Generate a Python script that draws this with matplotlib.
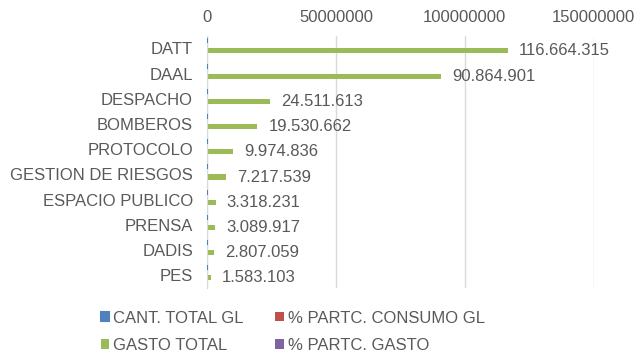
import matplotlib
matplotlib.use("Agg")
import matplotlib.pyplot as plt
import numpy as np

categories = ["DATT", "DAAL", "DESPACHO", "BOMBEROS", "PROTOCOLO",
              "GESTION DE RIESGOS", "ESPACIO PUBLICO", "PRENSA", "DADIS", "PES"]
cant_total_gl = [13400, 10450, 2820, 2245, 1150, 830, 380, 355, 320, 180]
pct_consumo_gl = [41.7, 32.5, 8.8, 7.0, 3.6, 2.6, 1.2, 1.1, 1.0, 0.6]
gasto_total = [116664315, 90864901, 24511613, 19530662, 9974836,
               7217539, 3318231, 3089917, 2807059, 1583103]
pct_gasto = [41.7, 32.5, 8.8, 7.0, 3.6, 2.6, 1.2, 1.1, 1.0, 0.6]
series_names = ["CANT. TOTAL GL", "% PARTC. CONSUMO GL", "GASTO TOTAL", "% PARTC. GASTO"]
x_ticks = [0, 50000000, 100000000, 150000000]

colors = ["#4F81BD", "#C0504D", "#9BBB59", "#8064A2"]
text_color = "#595959"
grid_color = "#D9D9D9"
fs = 12

plt.rcParams["font.family"] = ["Liberation Sans", "DejaVu Sans"]

fig = plt.figure(figsize=(6.35, 3.55), dpi=100)
ax = fig.add_axes([0.326, 0.189, 0.609, 0.710])

y = np.arange(len(categories))
h = 0.2
series = [cant_total_gl, pct_consumo_gl, gasto_total, pct_gasto]
handles = []
for i, (vals, name, c) in enumerate(zip(series, series_names, colors)):
    offs = (i - 1.5) * h
    lw = 1.5 if i == 0 else 0
    b = ax.barh(y + offs, vals, height=h, color=c, edgecolor=c, linewidth=lw,
                label=name, zorder=3 if i == 0 else 2)
    handles.append(b)

def fmt(v):
    return f"{v:,}".replace(",", ".")

for yi, v in zip(y, gasto_total):
    ax.annotate(fmt(v), xy=(v, yi + 0.5 * h), xytext=(8, 0), textcoords="offset points",
                ha="left", va="center", fontsize=fs, color=text_color)

ax.set_xlim(0, 150000000)
ax.set_ylim(len(categories) - 0.5, -0.5)
ax.set_yticks(y)
ax.set_yticklabels(categories)
ax.set_xticks(x_ticks)
ax.set_xticklabels([str(t) for t in x_ticks])
ax.xaxis.tick_top()
ax.tick_params(axis="both", length=0, labelsize=fs, labelcolor=text_color)
ax.tick_params(axis="y", pad=10)
ax.tick_params(axis="x", pad=8)
ax.grid(axis="x", color=grid_color, linewidth=1)
ax.set_axisbelow(True)
for s in ["top", "right", "bottom"]:
    ax.spines[s].set_visible(False)
ax.spines["left"].set_color(grid_color)

# legend laid out row by row: column-major order of handles
order = [0, 2, 1, 3]
fig.legend(handles=[handles[i] for i in order], labels=[series_names[i] for i in order],
           loc="lower left", bbox_to_anchor=(0.135, -0.037), ncol=2, frameon=False,
           fontsize=fs, labelcolor=text_color, handlelength=0.5, handleheight=0.5,
           handletextpad=0.25, columnspacing=1.9, labelspacing=0.75)

fig.savefig("out.png", dpi=100)
